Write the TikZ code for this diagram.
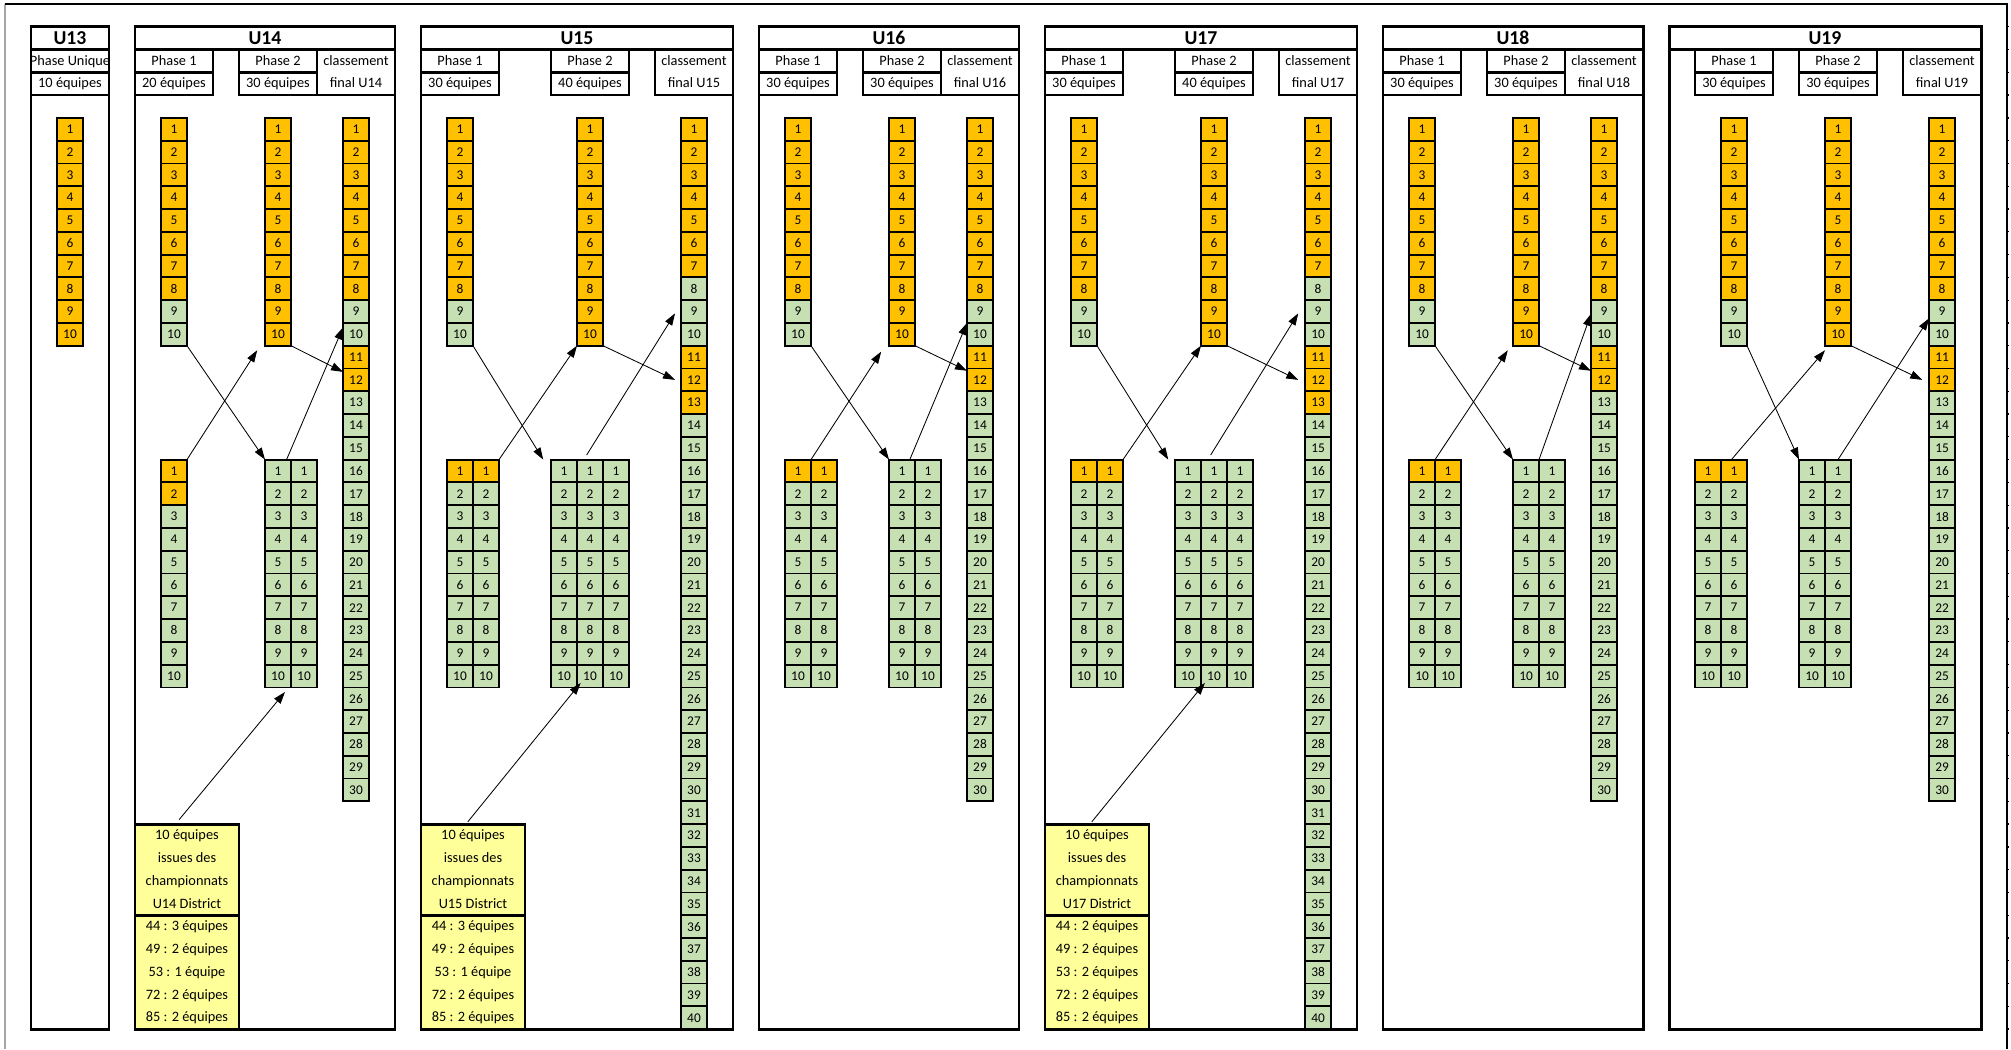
\documentclass[tikz,border=0pt]{standalone}
\usepackage{fontspec}
\setmainfont{Carlito}
\usetikzlibrary{arrows.meta, calc}

\definecolor{qualorange}{HTML}{FFC000}
\definecolor{cellgreen}{HTML}{C6E0B4}
\definecolor{districtyellow}{HTML}{FFFF99}

\tikzset{
    teamcell/.style={draw, line width=1.3pt, minimum width=0.65cm, minimum height=0.5695cm, inner sep=0pt, outer sep=0pt, anchor=north west, font=\fontsize{9.5}{10}\selectfont},
    greencell/.style={teamcell, fill=cellgreen},
    orangecell/.style={teamcell, fill=qualorange},
    frameline/.style={line width=2.1pt},
    headline/.style={line width=1.7pt},
    headtext/.style={inner sep=0pt, text height=7pt, text depth=1pt, font=\fontsize{10.2}{12}\selectfont},
    titletext/.style={inner sep=0pt, font=\fontsize{14}{16}\selectfont\bfseries},
    moveline/.style={line width=0.6pt, -{Triangle[length=0.3cm, width=0.2cm]}}
}

% a column of numbered teams
\newcommand{\teamstack}[5]{%
    \foreach \k in {1,...,#4}
        \node (#1-\k)[#5] at (#2,#3+\k-1) {\k};
}
% qualified teams painted orange
\newcommand{\markqual}[4]{%
    \foreach \k in {#4}
        \node (#1-\k)[orangecell] at (#2,#3+\k-1) {\k};
}
% frame of one age group
\newcommand{\agegroup}[4]{%
    \draw[frameline] (#2,1) rectangle (#3,45);
    \draw[frameline] (#2,2) -- (#3,2);
    \node (#1)[titletext] at ({(#2+#3)/2},1.5) {#4};
}
\newcommand{\phasehead}[5]{%
    \draw[headline] (#2,2) rectangle (#3,4) (#2,3) -- (#3,3);
    \node (#1-a)[headtext] at ({(#2+#3)/2},2.5) {#4};
    \node (#1-b)[headtext] at ({(#2+#3)/2},3.5) {#5};
}
\newcommand{\finalhead}[5]{%
    \draw[headline] (#2,2) rectangle (#3,4);
    \node (#1-a)[headtext] at ({(#2+#3)/2},2.5) {#4};
    \node (#1-b)[headtext] at ({(#2+#3)/2},3.5) {#5};
}

\begin{document}
\begin{tikzpicture}[x=0.65cm, y=-0.5695cm]
    \useasboundingbox (-1.1923,-0.1756) rectangle (76.1538,45.8736);
    % sheet border
    \draw[line width=1.1pt, gray!70] (-1,0) -- (-1,45.87);
    \draw[line width=1.6pt] (-1,0) -- (76,0) -- (76,45.87);
    \foreach \r in {1,...,45}
        \draw[line width=0.9pt] (76,\r) -- ++(0.08,0);

    % U13
    \agegroup{u13}{0}{3}{U13}
    \begin{scope}
        \clip (0,2) rectangle (3,3);
        \node (u13h-a)[headtext] at (1.5,2.5) {Phase Unique};
    \end{scope}
    \draw[headline] (0,2) rectangle (3,4) (0,3) -- (3,3);
    \node (u13h-b)[headtext] at (1.5,3.5) {10 équipes};
    \teamstack{u13p}{1}{5}{10}{orangecell}

    % U14
    \agegroup{u14}{4}{14}{U14}
    \phasehead{u14h1}{4}{7}{Phase 1}{20 équipes}
    \phasehead{u14h2}{8}{11}{Phase 2}{30 équipes}
    \finalhead{u14h3}{11}{14}{classement}{final U14}
    \teamstack{u14p1}{5}{5}{10}{greencell}
    \markqual{u14p1}{5}{5}{1,...,8}
    \teamstack{u14p2}{9}{5}{10}{orangecell}
    \teamstack{u14fin}{12}{5}{30}{greencell}
    \markqual{u14fin}{12}{5}{1,...,8,11,12}
    \teamstack{u14q1}{5}{20}{10}{greencell}
    \markqual{u14q1}{5}{20}{1,2}
    \teamstack{u14q2a}{9}{20}{10}{greencell}
    \teamstack{u14q2b}{10}{20}{10}{greencell}
    \draw[frameline, fill=districtyellow] (4,36) rectangle (8,45);
    \draw[frameline] (4,40) -- (8,40);
    \foreach \dtext [count=\i] in {10 équipes, issues des, championnats, U14 District, 44 : 3 équipes, 49 : 2 équipes, 53 : 1 équipe, 72 : 2 équipes, 85 : 2 équipes}
        \node (u14d-\i)[headtext] at (6,35.5+\i) {\dtext};
    \coordinate (u14dtop) at (5.7,35.8);
    \draw[moveline] (u14p1-10.south east) -- (u14q2a-1.north west);
    \draw[moveline] (u14q1-1.north east) -- ($(u14p2-10.south west)+(-0.3,0.2)$);
    \draw[moveline] ($(u14q2a-1.north east)+(-0.17,0)$) -- ($(u14fin-10.north west)+(0,0.2)$);
    \draw[moveline] (u14p2-10.south east) -- ($(u14fin-12.north west)+(0,0.15)$);
    \draw[moveline] (u14dtop) -- ($(u14q2a-10.south east)+(-0.23,0.2)$);

    % U15
    \agegroup{u15}{15}{27}{U15}
    \phasehead{u15h1}{15}{18}{Phase 1}{30 équipes}
    \phasehead{u15h2}{20}{23}{Phase 2}{40 équipes}
    \finalhead{u15h3}{24}{27}{classement}{final U15}
    \teamstack{u15p1}{16}{5}{10}{greencell}
    \markqual{u15p1}{16}{5}{1,...,8}
    \teamstack{u15p2}{21}{5}{10}{orangecell}
    \teamstack{u15fin}{25}{5}{40}{greencell}
    \markqual{u15fin}{25}{5}{1,...,7,11,12,13}
    \teamstack{u15q1a}{16}{20}{10}{greencell}
    \teamstack{u15q1b}{17}{20}{10}{greencell}
    \markqual{u15q1a}{16}{20}{1}
    \markqual{u15q1b}{17}{20}{1}
    \teamstack{u15q2a}{20}{20}{10}{greencell}
    \teamstack{u15q2b}{21}{20}{10}{greencell}
    \teamstack{u15q2c}{22}{20}{10}{greencell}
    \draw[frameline, fill=districtyellow] (15,36) rectangle (19,45);
    \draw[frameline] (15,40) -- (19,40);
    \foreach \dtext [count=\i] in {10 équipes, issues des, championnats, U15 District, 44 : 3 équipes, 49 : 2 équipes, 53 : 1 équipe, 72 : 2 équipes, 85 : 2 équipes}
        \node (u15d-\i)[headtext] at (17,35.5+\i) {\dtext};
    \coordinate (u15dtop) at (16.8,35.9);
    \draw[moveline] (u15p1-10.south east) -- ($(u15q2a-1.north west)+(-0.3,0)$);
    \draw[moveline] (u15q1b-1.north east) -- (u15p2-10.south west);
    \draw[moveline] ($(u15q2b-1.north)+(-0.13,-0.2)$) -- ($(u15fin-9.west)+(-0.23,0.08)$);
    \draw[moveline] (u15p2-10.south east) -- ($(u15fin-12.west)+(-0.23,0)$);
    \draw[moveline] (u15dtop) -- ($(u15q2b-10.south west)+(0.14,-0.2)$);

    % U16
    \agegroup{u16}{28}{38}{U16}
    \phasehead{u16h1}{28}{31}{Phase 1}{30 équipes}
    \phasehead{u16h2}{32}{35}{Phase 2}{30 équipes}
    \finalhead{u16h3}{35}{38}{classement}{final U16}
    \teamstack{u16p1}{29}{5}{10}{greencell}
    \markqual{u16p1}{29}{5}{1,...,8}
    \teamstack{u16p2}{33}{5}{10}{orangecell}
    \teamstack{u16fin}{36}{5}{30}{greencell}
    \markqual{u16fin}{36}{5}{1,...,8,11,12}
    \teamstack{u16q1a}{29}{20}{10}{greencell}
    \teamstack{u16q1b}{30}{20}{10}{greencell}
    \markqual{u16q1a}{29}{20}{1}
    \markqual{u16q1b}{30}{20}{1}
    \teamstack{u16q2a}{33}{20}{10}{greencell}
    \teamstack{u16q2b}{34}{20}{10}{greencell}
    \draw[moveline] (u16p1-10.south east) -- (u16q2a-1.north west);
    \draw[moveline] (u16q1a-1.north east) -- ($(u16p2-10.south west)+(-0.3,0.26)$);
    \draw[moveline] ($(u16q2a-1.north east)+(-0.2,0)$) -- (u16fin-9.south west);
    \draw[moveline] (u16p2-10.south east) -- ($(u16fin-12.north west)+(0,0.1)$);

    % U17
    \agegroup{u17}{39}{51}{U17}
    \phasehead{u17h1}{39}{42}{Phase 1}{30 équipes}
    \phasehead{u17h2}{44}{47}{Phase 2}{40 équipes}
    \finalhead{u17h3}{48}{51}{classement}{final U17}
    \teamstack{u17p1}{40}{5}{10}{greencell}
    \markqual{u17p1}{40}{5}{1,...,8}
    \teamstack{u17p2}{45}{5}{10}{orangecell}
    \teamstack{u17fin}{49}{5}{40}{greencell}
    \markqual{u17fin}{49}{5}{1,...,7,11,12,13}
    \teamstack{u17q1a}{40}{20}{10}{greencell}
    \teamstack{u17q1b}{41}{20}{10}{greencell}
    \markqual{u17q1a}{40}{20}{1}
    \markqual{u17q1b}{41}{20}{1}
    \teamstack{u17q2a}{44}{20}{10}{greencell}
    \teamstack{u17q2b}{45}{20}{10}{greencell}
    \teamstack{u17q2c}{46}{20}{10}{greencell}
    \draw[frameline, fill=districtyellow] (39,36) rectangle (43,45);
    \draw[frameline] (39,40) -- (43,40);
    \foreach \dtext [count=\i] in {10 équipes, issues des, championnats, U17 District, 44 : 2 équipes, 49 : 2 équipes, 53 : 2 équipes, 72 : 2 équipes, 85 : 2 équipes}
        \node (u17d-\i)[headtext] at (41,35.5+\i) {\dtext};
    \coordinate (u17dtop) at (40.8,35.9);
    \draw[moveline] (u17p1-10.south east) -- ($(u17q2a-1.north west)+(-0.26,0)$);
    \draw[moveline] (u17q1b-1.north east) -- (u17p2-10.south west);
    \draw[moveline] ($(u17q2b-1.north)+(-0.13,-0.2)$) -- ($(u17fin-9.west)+(-0.26,0.08)$);
    \draw[moveline] (u17p2-10.south east) -- ($(u17fin-12.west)+(-0.26,0)$);
    \draw[moveline] (u17dtop) -- ($(u17q2b-10.south west)+(0.15,-0.2)$);

    % U18
    \agegroup{u18}{52}{62}{U18}
    \phasehead{u18h1}{52}{55}{Phase 1}{30 équipes}
    \phasehead{u18h2}{56}{59}{Phase 2}{30 équipes}
    \finalhead{u18h3}{59}{62}{classement}{final U18}
    \teamstack{u18p1}{53}{5}{10}{greencell}
    \markqual{u18p1}{53}{5}{1,...,8}
    \teamstack{u18p2}{57}{5}{10}{orangecell}
    \teamstack{u18fin}{60}{5}{30}{greencell}
    \markqual{u18fin}{60}{5}{1,...,8,11,12}
    \teamstack{u18q1a}{53}{20}{10}{greencell}
    \teamstack{u18q1b}{54}{20}{10}{greencell}
    \markqual{u18q1a}{53}{20}{1}
    \markqual{u18q1b}{54}{20}{1}
    \teamstack{u18q2a}{57}{20}{10}{greencell}
    \teamstack{u18q2b}{58}{20}{10}{greencell}
    \draw[moveline] (u18p1-10.south east) -- (u18q2a-1.north west);
    \draw[moveline] (u18q1a-1.north east) -- ($(u18p2-10.south west)+(-0.2,0.2)$);
    \draw[moveline] (u18q2a-1.north east) -- ($(u18fin-9.west)+(0,0.1)$);
    \draw[moveline] (u18p2-10.south east) -- ($(u18fin-12.north west)+(0,0.1)$);

    % U19
    \agegroup{u19}{63}{75}{U19}
    \phasehead{u19h1}{64}{67}{Phase 1}{30 équipes}
    \phasehead{u19h2}{68}{71}{Phase 2}{30 équipes}
    \finalhead{u19h3}{72}{75}{classement}{final U19}
    \teamstack{u19p1}{65}{5}{10}{greencell}
    \markqual{u19p1}{65}{5}{1,...,8}
    \teamstack{u19p2}{69}{5}{10}{orangecell}
    \teamstack{u19fin}{73}{5}{30}{greencell}
    \markqual{u19fin}{73}{5}{1,...,8,11,12}
    \teamstack{u19q1a}{64}{20}{10}{greencell}
    \teamstack{u19q1b}{65}{20}{10}{greencell}
    \markqual{u19q1a}{64}{20}{1}
    \markqual{u19q1b}{65}{20}{1}
    \teamstack{u19q2a}{68}{20}{10}{greencell}
    \teamstack{u19q2b}{69}{20}{10}{greencell}
    \draw[moveline] (u19p1-10.south east) -- (u19q2a-1.north west);
    \draw[moveline] ($(u19q1b-1.north)+(-0.1,0)$) -- ($(u19p2-10.south west)+(0,0.2)$);
    \draw[moveline] (u19q2b-1.north) -- ($(u19fin-9.south west)+(0,-0.2)$);
    \draw[moveline] (u19p2-10.south east) -- ($(u19fin-12.west)+(-0.26,0)$);
\end{tikzpicture}
\end{document}
